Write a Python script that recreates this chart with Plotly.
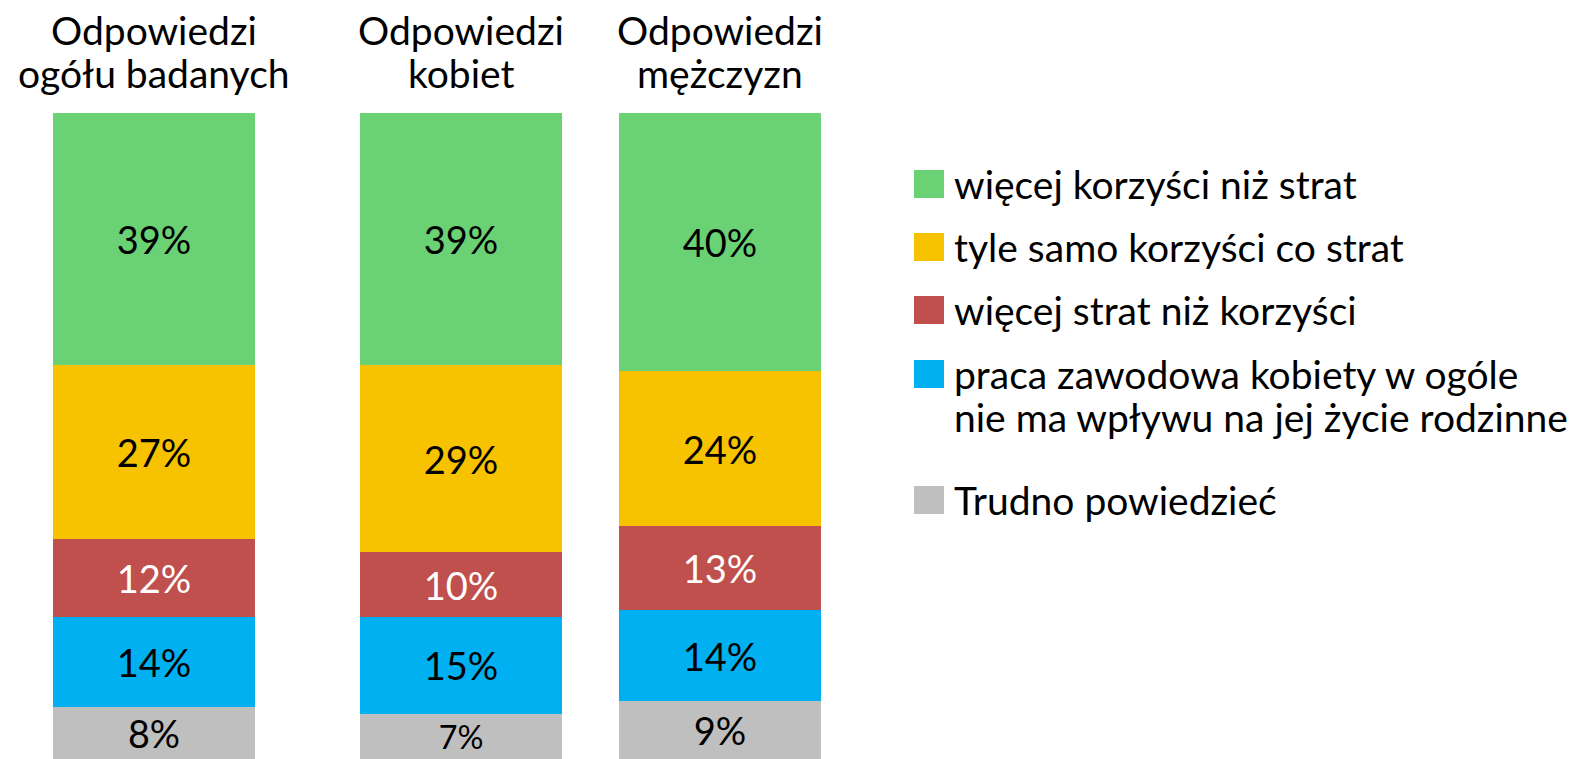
import plotly.graph_objects as go

# ---- data ----
groups = [["Odpowiedzi", "ogółu badanych"], ["Odpowiedzi", "kobiet"], ["Odpowiedzi", "mężczyzn"]]
series_names = [
    ["więcej korzyści niż strat"],
    ["tyle samo korzyści co strat"],
    ["więcej strat niż korzyści"],
    ["praca zawodowa kobiety w ogóle", "nie ma wpływu na jej życie rodzinne"],
    ["Trudno powiedzieć"],
]
wiecej_korzysci = [39, 39, 40]
tyle_samo = [27, 29, 24]
wiecej_strat = [12, 10, 13]
brak_wplywu = [14, 15, 14]
trudno = [8, 7, 9]

# ---- style ----
colors = ["#6AD175", "#F7C300", "#C0504D", "#00B0F0", "#BFBFBF"]
label_colors = ["black", "black", "white", "black", "black"]
FONT = "Lato"
W, H = 1578, 759
TOP = 113
bar_x = [154, 461, 720]
bar_w = 202
LINE = 43

values = [wiecej_korzysci, tyle_samo, wiecej_strat, brak_wplywu, trudno]

fig = go.Figure()
for i in reversed(range(len(series_names))):
    fig.add_trace(go.Bar(
        x=bar_x, y=values[i], width=bar_w,
        marker=dict(color=colors[i], line=dict(width=0)),
        text=[f"{v}%" for v in values[i]],
        textposition="inside", insidetextanchor="middle",
        textfont=dict(family=FONT, size=38, color=label_colors[i]),
        name=" ".join(series_names[i]), showlegend=False, hoverinfo="skip",
    ))


def py(pix):
    # pixel row -> paper y (plot area spans TOP..H)
    return (H - pix) / (H - TOP)


annotations = []
for gx, lines in zip(bar_x, groups):
    for k, line in enumerate(lines):
        annotations.append(dict(
            x=gx, y=py(30 + k * LINE), xref="x", yref="paper", text=line,
            showarrow=False, xanchor="center", yanchor="middle",
            font=dict(family=FONT, size=39, color="black"),
        ))

leg_y = [184, 247, 310, 374, 500]
shapes = []
for i, lines in enumerate(series_names):
    y0 = leg_y[i]
    shapes.append(dict(type="rect", xref="x", yref="paper",
                       x0=914, x1=944, y0=py(y0 + 14), y1=py(y0 - 14),
                       fillcolor=colors[i], line=dict(width=0)))
    for k, line in enumerate(lines):
        annotations.append(dict(
            x=952, y=py(y0 + k * LINE), xref="x", yref="paper",
            text=line, showarrow=False, xanchor="left", yanchor="middle",
            font=dict(family=FONT, size=39, color="black"),
        ))

fig.update_layout(
    barmode="stack",
    width=W, height=H,
    margin=dict(l=0, r=0, t=TOP, b=0),
    paper_bgcolor="white", plot_bgcolor="white",
    xaxis=dict(range=[0, W], visible=False, fixedrange=True),
    yaxis=dict(range=[0, 100], visible=False, fixedrange=True),
    annotations=annotations, shapes=shapes,
)

fig.write_html("out.html", config={"displayModeBar": False},
               post_script="document.body.style.margin='0';")
